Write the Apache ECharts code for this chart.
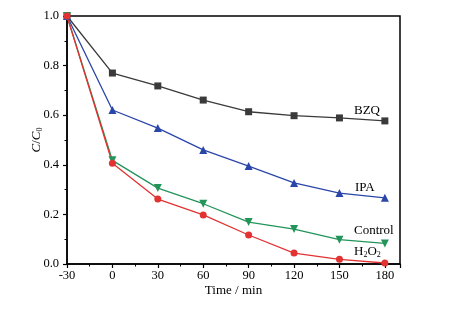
<!DOCTYPE html>
<html lang="en">
<head>
    <meta charset="UTF-8">
    <title>C/C0 vs time</title>
    <script src="https://cdn.jsdelivr.net/npm/echarts/dist/echarts.min.js"></script>
    <style>
        body { margin: 0; background: #fff; }
        #chart { width: 457px; height: 312px; }
    </style>
</head>
<body>
    <div id="chart"></div>
    <script>
        // time points (min)
        var times = [-30, 0, 30, 60, 90, 120, 150, 180];
        // C/C0 values
        var bzq = [1.0, 0.770, 0.718, 0.661, 0.614, 0.598, 0.589, 0.577];
        var ipa = [1.0, 0.621, 0.548, 0.460, 0.395, 0.327, 0.286, 0.267];
        var control = [1.0, 0.418, 0.306, 0.243, 0.169, 0.141, 0.098, 0.083];
        var h2o2 = [1.0, 0.406, 0.262, 0.198, 0.117, 0.044, 0.019, 0.004];

        function pairs(vals) {
            return times.map(function (t, i) { return [t, vals[i]]; });
        }

        var font = 'Liberation Serif';
        var chart = echarts.init(document.getElementById('chart'));

        function line(name, vals, color, symbol, size) {
            return {
                name: name,
                type: 'line',
                data: pairs(vals),
                symbol: symbol,
                symbolSize: size,
                lineStyle: { color: color, width: 1.3 },
                itemStyle: { color: color },
                animation: false
            };
        }

        chart.setOption({
            grid: {
                left: 67, right: 57, top: 16, bottom: 48,
                show: true, borderColor: '#000', borderWidth: 1.5
            },
            xAxis: {
                type: 'value',
                min: -30, max: 190, interval: 30,
                name: 'Time / min',
                nameLocation: 'middle',
                nameGap: 20,
                nameMoveOverlap: false,
                nameTextStyle: { fontFamily: font, fontSize: 13, color: '#000' },
                axisLine: { onZero: false, lineStyle: { color: '#000', width: 1.5 } },
                axisTick: { inside: false, length: 4, lineStyle: { color: '#000', width: 1.2 } },
                minorTick: { show: true, splitNumber: 2, length: 2.5, lineStyle: { color: '#000' } },
                axisLabel: {
                    fontFamily: font, fontSize: 12.5, color: '#000', margin: 5,
                    showMaxLabel: false,
                    formatter: function (v) { return v > 180 ? '' : String(v); }
                },
                splitLine: { show: false }
            },
            yAxis: {
                type: 'value',
                min: 0, max: 1, interval: 0.2,
                name: '{i|C}{n|/}{i|C}{s|0}',
                nameLocation: 'middle',
                nameGap: 23,
                nameMoveOverlap: false,
                nameRotate: 90,
                nameTextStyle: {
                    fontFamily: font, color: '#000',
                    rich: {
                        i: { fontFamily: font, fontStyle: 'italic', fontSize: 13, color: '#000' },
                        n: { fontFamily: font, fontSize: 13, color: '#000' },
                        s: { fontFamily: font, fontSize: 8, color: '#000', verticalAlign: 'bottom', padding: [6, 0, 0, 0] }
                    }
                },
                axisLine: { show: true, onZero: false, lineStyle: { color: '#000', width: 1.5 } },
                axisTick: { show: true, inside: false, length: 4, lineStyle: { color: '#000', width: 1.2 } },
                minorTick: { show: true, splitNumber: 2, length: 2.5, lineStyle: { color: '#000' } },
                axisLabel: {
                    fontFamily: font, fontSize: 12.5, color: '#000', margin: 8,
                    formatter: function (v) { return v.toFixed(1); }
                },
                splitLine: { show: false }
            },
            graphic: [
                { type: 'text', left: 354, top: 104, style: { text: 'BZQ', font: '13px "Liberation Serif"', fill: '#000' } },
                { type: 'text', left: 355, top: 181, style: { text: 'IPA', font: '13px "Liberation Serif"', fill: '#000' } },
                { type: 'text', left: 354, top: 224, style: { text: 'Control', font: '13px "Liberation Serif"', fill: '#000' } },
                {
                    type: 'text', left: 354, top: 245,
                    style: {
                        text: '{n|H}{s|2}{n|O}{s|2}',
                        rich: {
                            n: { font: '13px "Liberation Serif"', fill: '#000' },
                            s: { font: '8px "Liberation Serif"', fill: '#000', padding: [6, 0, 0, 0] }
                        }
                    }
                }
            ],
            series: [
                line('BZQ', bzq, '#3a3a3a', 'rect', 7),
                line('IPA', ipa, '#2a46a8', 'triangle', 8),
                line('Control', control, '#23945a', 'path://M0,0 L10,0 L5,9 Z', 8),
                line('H2O2', h2o2, '#e23232', 'circle', 7)
            ]
        });
    </script>
</body>
</html>
